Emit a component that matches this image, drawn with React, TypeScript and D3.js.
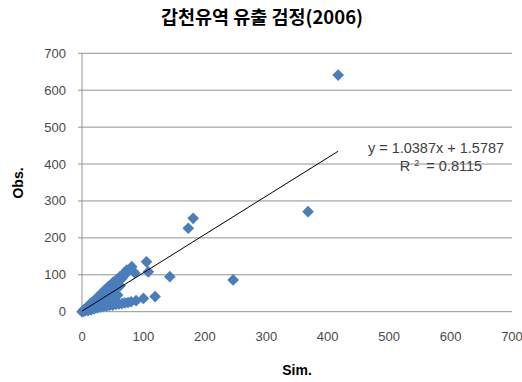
import React from "react";
import * as d3 from "d3";

const title = "갑천유역 유출 검정(2006)";
const xLabel = "Sim.";
const yLabel = "Obs.";
const ticks = [0, 100, 200, 300, 400, 500, 600, 700];

// simulated discharge
const sim = [
  417, 368, 246, 181, 173, 143, 105, 108, 119, 100, 81,
  73, 68, 62, 57, 51, 46, 42, 38, 35, 32, 29, 26, 23, 20, 17, 14, 11, 8,
  60, 55, 48, 44, 40, 36, 30, 25, 65, 70, 86,
  20, 25, 30, 35, 40, 45, 50, 55, 60, 65, 70, 75, 80, 88,
  10, 15, 5, 2, 0, 3, 6, 30, 40, 20, 12, 18, 28, 50, 58,
  45, 52, 38, 62, 33, 22,
];
// observed discharge
const obs = [
  641, 271, 86, 253, 226, 95, 135, 108, 41, 36, 122,
  113, 104, 95, 88, 80, 72, 66, 60, 55, 50, 44, 40, 35, 30, 26, 22, 17, 12,
  84, 76, 64, 58, 50, 46, 38, 32, 90, 100, 105,
  8, 10, 12, 14, 15, 17, 18, 20, 21, 22, 24, 25, 27, 30,
  3, 5, 2, 1, 0, 5, 8, 25, 35, 15, 10, 20, 30, 40, 45,
  55, 62, 42, 70, 24, 18,
];

const slope = 1.0387;
const intercept = 1.5787;
const r2 = 0.8115;

export default function App() {
  const x = d3.scaleLinear().domain([0, 700]).range([82, 512]);
  const y = d3.scaleLinear().domain([0, 700]).range([311.7, 53.3]);
  const diamond = d3.symbol(d3.symbolSquare, 68)();
  const xMin = d3.min(sim) as number;
  const xMax = d3.max(sim) as number;
  const trend = d3.line<number>()
    .x(v => x(v))
    .y(v => y(slope * v + intercept))([xMin, xMax]);

  const axisFont = "'Liberation Sans', Arial, sans-serif";

  return (
    <svg width={522} height={382} style={{ position: "absolute", left: 0, top: 0, background: "#fff" }}>
      <text x={262} y={24} textAnchor="middle" fontFamily="'Noto Sans CJK KR', sans-serif"
        fontWeight="bold" fontSize={18.5} fill="#000">{title}</text>

      {ticks.map(t => (
        <g key={"g" + t}>
          <line x1={x(0)} x2={x(700)} y1={y(t)} y2={y(t)} stroke="#929292" strokeWidth={1} />
          <line x1={x(0) - 4} x2={x(0)} y1={y(t)} y2={y(t)} stroke="#929292" strokeWidth={1} />
          <text x={66} y={y(t) + 4.5} textAnchor="end" fontFamily={axisFont} fontSize={13} fill="#4a4a4a">{t}</text>
          <text x={x(t)} y={341} textAnchor="middle" fontFamily={axisFont} fontSize={13} fill="#4a4a4a">{t}</text>
        </g>
      ))}
      <line x1={x(0)} x2={x(0)} y1={y(700)} y2={y(0)} stroke="#929292" strokeWidth={1} />

      {sim.map((s, i) => (
        <path key={i} d={diamond ?? ""} transform={`translate(${x(s)},${y(obs[i])}) rotate(45)`} fill="#4a7ebb" />
      ))}

      <path d={trend ?? ""} fill="none" stroke="#000" strokeWidth={1} />

      <text x={436} y={153} textAnchor="middle" fontFamily={axisFont} fontSize={14.5} fill="#404040">
        {`y = ${slope}x + ${intercept}`}
      </text>
      <text x={441} y={171} textAnchor="middle" fontFamily={axisFont} fontSize={14.5} fill="#404040">
        R<tspan fontSize={9} dx={4} dy={-5}>2</tspan><tspan dx={3} dy={5}>{` = ${r2}`}</tspan>
      </text>

      <text x={297} y={375} textAnchor="middle" fontFamily={axisFont} fontWeight="bold" fontSize={14} fill="#000">{xLabel}</text>
      <text transform={`translate(23,183) rotate(-90)`} textAnchor="middle" fontFamily={axisFont}
        fontWeight="bold" fontSize={14} fill="#000">{yLabel}</text>
    </svg>
  );
}
